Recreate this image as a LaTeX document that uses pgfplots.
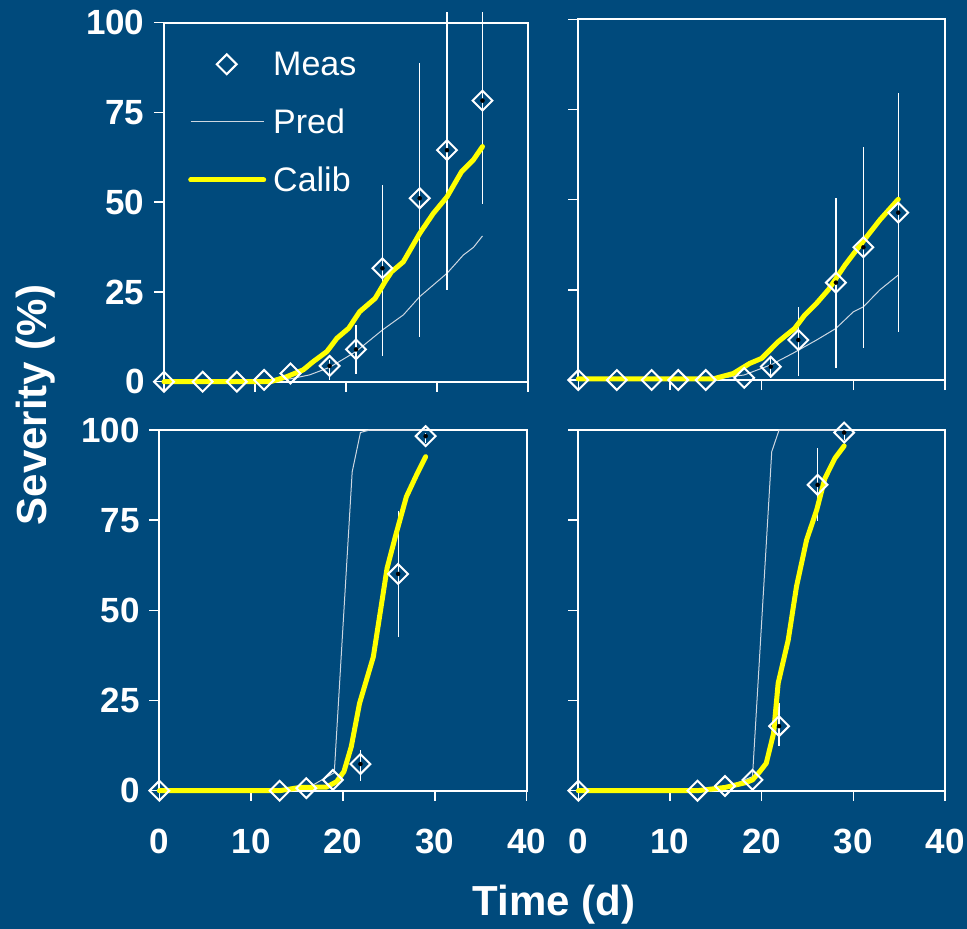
\documentclass[border=0pt]{standalone}
\usepackage{pgfplots}
\pgfplotsset{compat=1.18}
\usepackage{fontspec}
\setmainfont{Liberation Sans}
\definecolor{bg}{RGB}{0,74,124}
\definecolor{predc}{RGB}{205,215,225}
\definecolor{caly}{RGB}{255,255,0}
\pgfplotsset{
  panel/.style={
    scale only axis, xmin=0, xmax=40, ymin=0, ymax=100,
    xtick={0,10,20,30,40}, ytick={0,25,50,75,100},
    axis line style={white, line width=2pt},
    every tick/.style={white, line width=1.5pt},
    tick align=outside, major tick length=10pt, tick pos=left,
    clip=false,
    ticklabel style={font=\bfseries\fontsize{35}{35}\selectfont, text=white},
    xticklabel style={yshift=-25pt},
    yticklabel style={xshift=-6pt},
    /pgf/number format/assume math mode=true,
  },
  meas/.style={only marks, mark=square, mark size=7pt, mark options={rotate=45, draw=white, fill=bg, line width=2pt, solid}},
  pred/.style={predc, line width=1pt, mark=none},
  calib/.style={caly, line width=5pt, mark=none, line cap=round, line join=round},
  errb/.style={only marks, mark=none, forget plot, error bars/.cd, y dir=both, y explicit, error mark=none, error bar style={draw=white, line width=1.2pt, solid}},
  markleg/.style={legend image code/.code={\draw[mark repeat=2,mark phase=2,##1] plot coordinates {(0pt,0pt) (36pt,0pt) (73pt,0pt)};}},
  lineleg/.style={legend image code/.code={\draw[##1] (0pt,0pt) -- (73pt,0pt);}},
}
\begin{document}
\begin{tikzpicture}
\fill[bg] (0pt,0pt) rectangle (967pt,-929pt);

% Top-left
\begin{axis}[panel, at={(164pt,-381.7pt)}, anchor=south west, width=364pt, height=359pt,
  xticklabels={},
  legend style={at={(0.066,0.925)}, anchor=north west, draw=none, fill=none, text=white,
    font=\fontsize{34}{40}\selectfont, row sep=28pt, inner sep=0pt,
    /tikz/every odd column/.append style={column sep=5pt}},
  legend cell align=left]
\addlegendimage{meas, markleg}
\addlegendentry{Meas}
\addlegendimage{pred, lineleg}
\addlegendentry{Pred}
\addlegendimage{calib, lineleg}
\addlegendentry{Calib}
\addplot[pred, forget plot] coordinates {(0,0) (11,0) (13.9,0.8) (16,1.9) (18.2,4) (21.1,8.4) (24,14.4) (26.3,18.6) (28.1,23.7) (31.1,30.2) (32.9,35.3) (34,37.4) (35,40.6)};
\addplot[errb] table[x index=0, y index=1, y error plus index=2, y error minus index=3] {
18.2 4.4 1.6 3.9
21.1 9.0 6.8 6.9
24.0 31.6 23.2 24.4
28.1 51.1 37.8 38.6
31.1 64.5 38.5 39.0
35.0 78.3 24.7 28.8
};
\addplot[calib, forget plot] coordinates {(0,0) (11.7,0) (13.5,1.4) (15.3,3.3) (16.4,5.6) (17.9,8.4) (19.0,12.1) (20.3,14.9) (21.5,19.5) (23.2,23.2) (24.3,27.9) (25,30.6) (26.3,33.4) (28.1,41.3) (29.6,46.9) (31.1,51.5) (32.7,58.5) (34,61.8) (35,65.5)};
\addplot[meas, forget plot] coordinates {(0,0) (4.25,0) (8.0,0) (11.0,0.5) (13.9,2.3) (18.2,4.4) (21.1,9.0) (24.0,31.6) (28.1,51.1) (31.1,64.5) (35.0,78.3)};
\end{axis}

% Top-right
\begin{axis}[panel, at={(578.3pt,-380pt)}, anchor=south west, width=366.7pt, height=360.7pt,
  xticklabels={}, yticklabels={}]
\addplot[pred] coordinates {(0,0) (14,0) (18.1,1.4) (21,4.2) (23.4,7.4) (26,11.1) (28.1,14.3) (30,18.9) (31.1,20.3) (32.9,25.0) (34.9,29.1)};
\addplot[errb] table[x index=0, y index=1, y error plus index=2, y error minus index=3] {
21.0 3.7 2.8 3.2
24.0 11.1 9.2 10.0
28.1 27.0 23.4 23.6
31.1 36.8 27.9 28.0
34.9 46.4 33.3 33.0
};
\addplot[calib] coordinates {(0,0.3) (14.7,0.3) (16.9,1.8) (18.7,4.6) (20,6.0) (21.8,10.6) (23.6,14.3) (24.7,18.0) (26,21.3) (27.3,25.1) (29.1,31.9) (30.9,37.9) (32.9,44.4) (34.9,50.1)};
\addplot[meas] coordinates {(0,0) (4.2,0) (8.0,0) (10.9,0) (13.9,0) (18.1,0.6) (21.0,3.7) (24.0,11.1) (28.1,27.0) (31.1,36.8) (34.9,46.4)};
\end{axis}

% Bottom-left
\begin{axis}[panel, at={(159.3pt,-790.7pt)}, anchor=south west, width=367.4pt, height=360.7pt]
\addplot[pred] coordinates {(0,0) (13,0) (16,0.5) (19.05,5) (21.0,88.4) (21.9,99.3) (22.9,100) (29,100)};
\addplot[errb] table[x index=0, y index=1, y error plus index=2, y error minus index=3] {
21.9 7.4 3.9 4.6
26.0 60.1 17.5 17.6
29.0 98.3 1.0 2.0
};
\addplot[calib] coordinates {(0,0) (13.1,0) (15.3,0.9) (18.2,1.0) (19.3,2.5) (20.1,5.3) (20.9,12.2) (21.8,24.2) (23.3,37.1) (24.8,61.7) (25.8,71.4) (26.9,81.5) (28.0,87.5) (29.0,92.6)};
\addplot[meas] coordinates {(0,0) (13.1,0) (16.0,0.7) (18.9,3.0) (21.9,7.4) (26.0,60.1) (29.0,98.3)};
\end{axis}

% Bottom-right
\begin{axis}[panel, at={(578.3pt,-790.7pt)}, anchor=south west, width=366.7pt, height=360.7pt,
  yticklabels={}]
\addplot[pred] coordinates {(0,0) (13,0) (16,0.8) (19,3.9) (21.1,94) (21.9,100) (29,100)};
\addplot[errb] table[x index=0, y index=1, y error plus index=2, y error minus index=3] {
21.9 17.9 6.3 5.5
26.1 84.8 10.1 9.9
29.0 99.3 0.7 2.0
};
\addplot[calib] coordinates {(0,0) (13,0) (16,0.9) (18.2,2.2) (19,3) (19.8,5.3) (20.5,7.6) (21.3,15.9) (21.8,29.8) (22.9,41.8) (23.8,56.6) (24.9,69.5) (26,77.8) (26.9,86.6) (28,92.2) (29,95.6)};
\addplot[meas] coordinates {(0,0) (13.0,0) (16.0,1.3) (19.0,3.0) (21.9,17.9) (26.1,84.8) (29.0,99.3)};
\end{axis}

\node[rotate=90, text=white, font=\bfseries\fontsize{42}{42}\selectfont] at (36pt,-405pt) {Severity (\%)};
\node[text=white, font=\bfseries\fontsize{42}{42}\selectfont] at (554pt,-905pt) {Time (d)};

\pgfresetboundingbox
\path[use as bounding box] (0pt,0pt) rectangle (967pt,-929pt);
\end{tikzpicture}
\end{document}
